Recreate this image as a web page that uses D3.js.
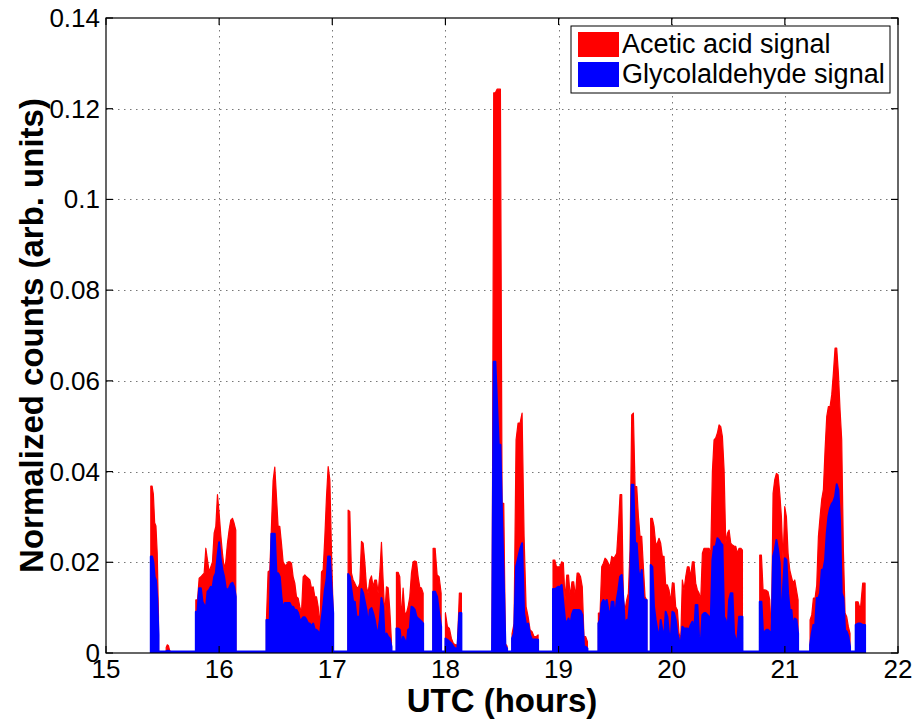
<!DOCTYPE html>
<html>
<head>
<meta charset="utf-8">
<script src="https://cdn.jsdelivr.net/npm/d3@7"></script>
<style>
    body { margin: 0; background: #fff; }
    svg { display: block; font-family: "Liberation Sans", Arial, Helvetica, sans-serif; }
</style>
</head>
<body>
<div id="chart"></div>
<script>
// measurement bursts (UTC hours); between them the signal is zero
var segmentStart = [15.396, 15.532, 15.794, 16.418, 17.140, 17.567, 17.891, 18.000,
    18.412, 18.589, 18.951, 19.352, 19.814, 20.778, 21.223, 21.626];
var segmentEnd = [15.464, 15.572, 16.147, 17.008, 17.523, 17.803, 17.962, 18.141,
    18.545, 18.819, 19.255, 19.779, 20.625, 21.117, 21.576, 21.709];

// samples inside each burst, evenly spaced from start to end
var aceticSignal = [
    [0.0368, 0.0368, 0.0350, 0.0287, 0.0280, 0.0220, 0.0080],
    [0.0012, 0.0018, 0.0016, 0.0006, 0.0003],
    [0.0117, 0.0117, 0.0165, 0.0168, 0.0172, 0.0176, 0.0231, 0.0205, 0.0179, 0.0190, 0.0201, 0.0264, 0.0279,
        0.0349, 0.0308, 0.0260, 0.0220, 0.0187, 0.0201, 0.0242, 0.0271, 0.0293, 0.0297, 0.0286, 0.0271],
    [0.0073, 0.0179, 0.0182, 0.0279, 0.0380, 0.0410, 0.0345, 0.0279, 0.0279, 0.0242, 0.0201, 0.0194, 0.0194,
        0.0201, 0.0201, 0.0198, 0.0168, 0.0154, 0.0124, 0.0121, 0.0102, 0.0088, 0.0168, 0.0172, 0.0168, 0.0165,
        0.0161, 0.0143, 0.0146, 0.0124, 0.0124, 0.0102, 0.0058, 0.0179, 0.0183, 0.0257, 0.0345, 0.0411, 0.0382,
        0.0220, 0.0088],
    [0.0315, 0.0312, 0.0176, 0.0161, 0.0154, 0.0146, 0.0143, 0.0154, 0.0246, 0.0242, 0.0201, 0.0146, 0.0132,
        0.0161, 0.0170, 0.0146, 0.0161, 0.0161, 0.0132, 0.0176, 0.0244, 0.0161, 0.0084, 0.0146, 0.0144, 0.0095,
        0.0025],
    [0.0178, 0.0178, 0.0168, 0.0073, 0.0143, 0.0088, 0.0088, 0.0102, 0.0124, 0.0176, 0.0201, 0.0203, 0.0201,
        0.0168, 0.0145, 0.0143, 0.0132],
    [0.0231, 0.0231, 0.0172, 0.0168, 0.0132],
    [0.0088, 0.0058, 0.0054, 0.0032, 0.0021, 0.0018, 0.0018, 0.0132, 0.0132],
    [0.0026, 0.1235, 0.1235, 0.1243, 0.1243, 0.1243, 0.0330, 0.0330, 0.0020, 0.0015],
    [0.0043, 0.0065, 0.0470, 0.0507, 0.0507, 0.0529, 0.0257, 0.0102, 0.0080, 0.0051, 0.0047, 0.0036, 0.0036,
        0.0040],
    [0.0205, 0.0205, 0.0190, 0.0190, 0.0190, 0.0201, 0.0199, 0.0117, 0.0172, 0.0172, 0.0125, 0.0157, 0.0157,
        0.0125, 0.0176, 0.0176, 0.0168, 0.0146, 0.0036, 0.0036, 0.0025],
    [0.0088, 0.0088, 0.0190, 0.0198, 0.0209, 0.0205, 0.0198, 0.0190, 0.0213, 0.0209, 0.0213, 0.0220, 0.0279,
        0.0349, 0.0349, 0.0117, 0.0095, 0.0117, 0.0132, 0.0227, 0.0525, 0.0529, 0.0367, 0.0367, 0.0301, 0.0257,
        0.0257, 0.0190, 0.0124, 0.0117],
    [0.0297, 0.0297, 0.0279, 0.0242, 0.0242, 0.0253, 0.0242, 0.0213, 0.0213, 0.0150, 0.0150, 0.0139, 0.0113,
        0.0154, 0.0154, 0.0102, 0.0095, 0.0043, 0.0029, 0.0161, 0.0139, 0.0168, 0.0190, 0.0190, 0.0168, 0.0201,
        0.0201, 0.0154, 0.0139, 0.0132, 0.0117, 0.0220, 0.0231, 0.0231, 0.0231, 0.0231, 0.0216, 0.0400, 0.0470,
        0.0474, 0.0485, 0.0503, 0.0499, 0.0477, 0.0404, 0.0242, 0.0264, 0.0271, 0.0242, 0.0238, 0.0236, 0.0235,
        0.0220, 0.0231, 0.0231, 0.0227],
    [0.0216, 0.0216, 0.0139, 0.0139, 0.0138, 0.0135, 0.0117, 0.0043, 0.0352, 0.0382, 0.0396, 0.0393, 0.0352,
        0.0300, 0.0200, 0.0323, 0.0300, 0.0220, 0.0183, 0.0168, 0.0154, 0.0161, 0.0139, 0.0117],
    [0.0073, 0.0084, 0.0121, 0.0121, 0.0150, 0.0257, 0.0300, 0.0339, 0.0360, 0.0448, 0.0521, 0.0543, 0.0543,
        0.0569, 0.0617, 0.0672, 0.0672, 0.0617, 0.0536, 0.0470, 0.0227, 0.0088, 0.0080, 0.0058, 0.0043],
    [0.0113, 0.0113, 0.0095, 0.0154, 0.0154]
];

var glycoSignal = [
    [0.0213, 0.0213, 0.0200, 0.0168, 0.0160, 0.0120, 0.0040],
    [0.0003, 0.0005, 0.0005, 0.0003, 0.0002],
    [0.0091, 0.0091, 0.0143, 0.0143, 0.0113, 0.0106, 0.0095, 0.0135, 0.0139, 0.0146, 0.0143, 0.0168, 0.0176,
        0.0213, 0.0244, 0.0205, 0.0183, 0.0168, 0.0143, 0.0139, 0.0143, 0.0152, 0.0155, 0.0146, 0.0124],
    [0.0073, 0.0073, 0.0073, 0.0263, 0.0263, 0.0263, 0.0176, 0.0176, 0.0168, 0.0124, 0.0095, 0.0110, 0.0110,
        0.0110, 0.0110, 0.0102, 0.0102, 0.0095, 0.0095, 0.0088, 0.0073, 0.0073, 0.0079, 0.0079, 0.0073, 0.0065,
        0.0065, 0.0058, 0.0065, 0.0051, 0.0051, 0.0047, 0.0036, 0.0073, 0.0102, 0.0139, 0.0161, 0.0213, 0.0213,
        0.0146, 0.0088],
    [0.0174, 0.0168, 0.0139, 0.0113, 0.0113, 0.0080, 0.0080, 0.0080, 0.0141, 0.0132, 0.0113, 0.0095, 0.0058,
        0.0095, 0.0099, 0.0088, 0.0073, 0.0051, 0.0043, 0.0073, 0.0121, 0.0102, 0.0025, 0.0043, 0.0036, 0.0032,
        0.0014],
    [0.0054, 0.0054, 0.0051, 0.0014, 0.0036, 0.0029, 0.0014, 0.0051, 0.0054, 0.0102, 0.0100, 0.0095, 0.0080,
        0.0076, 0.0073, 0.0069, 0.0065],
    [0.0135, 0.0135, 0.0124, 0.0088, 0.0058],
    [0.0032, 0.0029, 0.0025, 0.0021, 0.0014, 0.0010, 0.0010, 0.0088, 0.0088],
    [0.0005, 0.0642, 0.0642, 0.0550, 0.0459, 0.0459, 0.0300, 0.0161, 0.0015, 0.0010],
    [0.0032, 0.0043, 0.0190, 0.0209, 0.0229, 0.0242, 0.0088, 0.0062, 0.0065, 0.0040, 0.0029, 0.0030, 0.0030,
        0.0029],
    [0.0141, 0.0141, 0.0143, 0.0146, 0.0145, 0.0150, 0.0110, 0.0073, 0.0065, 0.0076, 0.0060, 0.0085, 0.0095,
        0.0095, 0.0095, 0.0095, 0.0093, 0.0084, 0.0014, 0.0014, 0.0010],
    [0.0065, 0.0073, 0.0110, 0.0117, 0.0110, 0.0117, 0.0095, 0.0080, 0.0113, 0.0113, 0.0076, 0.0117, 0.0139,
        0.0168, 0.0172, 0.0117, 0.0051, 0.0073, 0.0074, 0.0117, 0.0371, 0.0371, 0.0242, 0.0242, 0.0183, 0.0161,
        0.0183, 0.0121, 0.0117, 0.0117],
    [0.0194, 0.0190, 0.0102, 0.0073, 0.0051, 0.0029, 0.0073, 0.0051, 0.0029, 0.0091, 0.0080, 0.0043, 0.0029,
        0.0091, 0.0088, 0.0073, 0.0043, 0.0029, 0.0021, 0.0058, 0.0054, 0.0054, 0.0054, 0.0051, 0.0062, 0.0069,
        0.0043, 0.0106, 0.0106, 0.0036, 0.0021, 0.0084, 0.0088, 0.0088, 0.0084, 0.0080, 0.0073, 0.0205, 0.0235,
        0.0235, 0.0253, 0.0249, 0.0242, 0.0238, 0.0080, 0.0073, 0.0043, 0.0117, 0.0132, 0.0132, 0.0043, 0.0029,
        0.0029, 0.0080, 0.0080, 0.0080],
    [0.0113, 0.0113, 0.0043, 0.0047, 0.0051, 0.0051, 0.0047, 0.0021, 0.0213, 0.0227, 0.0249, 0.0227, 0.0198,
        0.0043, 0.0146, 0.0209, 0.0205, 0.0132, 0.0095, 0.0095, 0.0054, 0.0076, 0.0073, 0.0043],
    [0.0018, 0.0043, 0.0062, 0.0058, 0.0121, 0.0121, 0.0132, 0.0183, 0.0185, 0.0205, 0.0264, 0.0301, 0.0319,
        0.0329, 0.0334, 0.0345, 0.0372, 0.0360, 0.0290, 0.0132, 0.0121, 0.0051, 0.0047, 0.0036, 0.0014],
    [0.0062, 0.0065, 0.0065, 0.0062, 0.0062]
];

var xTicks = [15, 16, 17, 18, 19, 20, 21, 22];
var yTicks = [0, 0.02, 0.04, 0.06, 0.08, 0.1, 0.12, 0.14];
var legendLabels = ["Acetic acid signal", "Glycolaldehyde signal"];
var seriesColors = ["#ff0000", "#0000ff"];

var width = 914, height = 720;
var margin = {top: 18, right: 16, bottom: 67, left: 106};

var x = d3.scaleLinear().domain([15, 22]).range([margin.left, width - margin.right]);
var y = d3.scaleLinear().domain([0, 0.14]).range([height - margin.bottom, margin.top]);

// turn the bursts into one continuous series, zero in the gaps
function buildSeries(values) {
    var pts = [];
    segmentStart.forEach(function (s, i) {
        var e = segmentEnd[i], v = values[i], n = v.length;
        pts.push([s, 0]);
        v.forEach(function (d, j) {
            pts.push([s + (e - s) * j / (n - 1), d]);
        });
        pts.push([e, 0]);
    });
    return pts;
}

var svg = d3.select("#chart").append("svg")
        .attr("width", width)
        .attr("height", height);

svg.append("defs").append("clipPath").attr("id", "plot")
        .append("rect")
        .attr("x", margin.left).attr("y", margin.top)
        .attr("width", x(22) - x(15)).attr("height", y(0) - y(0.14));

//grid below data
var grid = svg.append("g")
        .attr("stroke", "#777")
        .attr("stroke-width", 1)
        .attr("stroke-dasharray", "1.5,4.5");
grid.selectAll(".gx").data(xTicks.slice(1, -1)).enter().append("line")
        .attr("x1", function (d) { return Math.round(x(d)) + 0.5; })
        .attr("x2", function (d) { return Math.round(x(d)) + 0.5; })
        .attr("y1", y(0.14)).attr("y2", y(0));
grid.selectAll(".gy").data(yTicks.slice(1, -1)).enter().append("line")
        .attr("y1", function (d) { return Math.round(y(d)) + 0.5; })
        .attr("y2", function (d) { return Math.round(y(d)) + 0.5; })
        .attr("x1", x(15)).attr("x2", x(22));

var area = d3.area()
        .x(function (d) { return x(d[0]); })
        .y0(y(0))
        .y1(function (d) { return y(d[1]); });
var line = d3.line()
        .x(function (d) { return x(d[0]); })
        .y(function (d) { return y(d[1]); });

var data = svg.append("g").attr("clip-path", "url(#plot)");
[aceticSignal, glycoSignal].forEach(function (values, k) {
    var pts = buildSeries(values);
    data.append("path")
            .attr("d", area(pts))
            .attr("fill", seriesColors[k]);
    data.append("path")
            .attr("d", line(pts))
            .attr("fill", "none")
            .attr("stroke", seriesColors[k])
            .attr("stroke-width", k === 1 ? 2 : 1.2)
            .attr("stroke-linejoin", "round");
});

//zero edge of the blue area, visible in the gaps just above the axis line
svg.append("line")
        .attr("x1", x(segmentStart[0]))
        .attr("x2", x(segmentEnd[segmentEnd.length - 1]))
        .attr("y1", y(0) - 1.5).attr("y2", y(0) - 1.5)
        .attr("stroke", seriesColors[1])
        .attr("stroke-width", 2);

//box and inward ticks on all sides
var axes = svg.append("g").attr("stroke", "#000").attr("stroke-width", 1.2);
axes.append("rect")
        .attr("x", x(15)).attr("y", y(0.14))
        .attr("width", x(22) - x(15)).attr("height", y(0) - y(0.14))
        .attr("fill", "none");
var tl = 7;
xTicks.forEach(function (t) {
    axes.append("line").attr("x1", x(t)).attr("x2", x(t)).attr("y1", y(0)).attr("y2", y(0) - tl);
    axes.append("line").attr("x1", x(t)).attr("x2", x(t)).attr("y1", y(0.14)).attr("y2", y(0.14) + tl);
});
yTicks.forEach(function (t) {
    axes.append("line").attr("y1", y(t)).attr("y2", y(t)).attr("x1", x(15)).attr("x2", x(15) + tl);
    axes.append("line").attr("y1", y(t)).attr("y2", y(t)).attr("x1", x(22)).attr("x2", x(22) - tl);
});

svg.selectAll(".xl").data(xTicks).enter().append("text")
        .attr("x", function (d) { return x(d); })
        .attr("y", y(0) + 25)
        .attr("text-anchor", "middle")
        .attr("font-size", 26)
        .text(function (d) { return d; });
svg.selectAll(".yl").data(yTicks).enter().append("text")
        .attr("x", x(15) - 6)
        .attr("y", function (d) { return y(d) + 9; })
        .attr("text-anchor", "end")
        .attr("font-size", 26)
        .text(function (d) { return d === 0 ? "0" : String(+d.toFixed(2)); });

svg.append("text")
        .attr("x", (x(15) + x(22)) / 2)
        .attr("y", 712)
        .attr("text-anchor", "middle")
        .attr("font-size", 33)
        .attr("font-weight", "bold")
        .text("UTC (hours)");
svg.append("text")
        .attr("transform", "translate(43," + ((y(0) + y(0.14)) / 2) + ") rotate(-90)")
        .attr("text-anchor", "middle")
        .attr("font-size", 33)
        .attr("font-weight", "bold")
        .text("Normalized counts (arb. units)");

//legend
var legend = svg.append("g");
legend.append("rect")
        .attr("x", 571).attr("y", 26).attr("width", 319).attr("height", 67)
        .attr("fill", "#fff").attr("stroke", "#000").attr("stroke-width", 1);
legendLabels.forEach(function (lab, i) {
    legend.append("rect")
            .attr("x", 578).attr("y", 32 + i * 30)
            .attr("width", 41).attr("height", 25)
            .attr("fill", seriesColors[i]);
    legend.append("text")
            .attr("x", 622).attr("y", 53 + i * 30)
            .attr("font-size", 27)
            .text(lab);
});
</script>
</body>
</html>
